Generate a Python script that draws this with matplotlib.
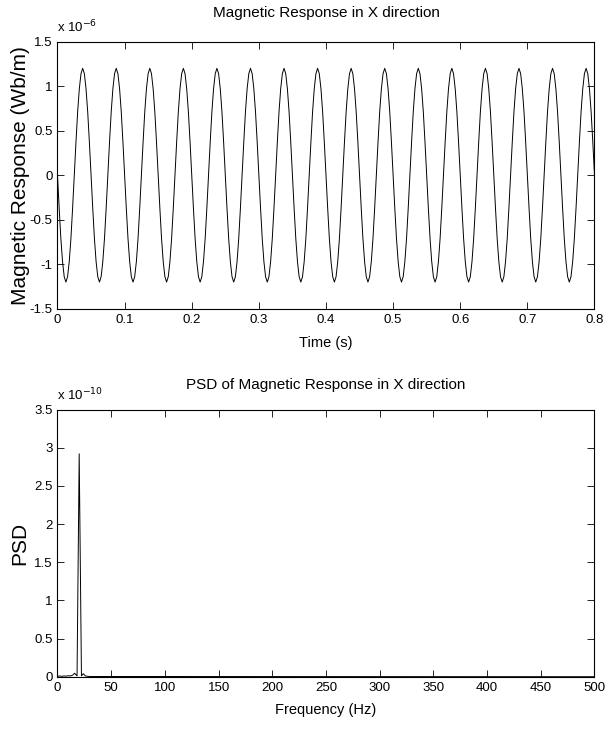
import numpy as np
import matplotlib.pyplot as plt

plt.rcParams['axes.unicode_minus'] = False

# one period of the time signal (units of 1e-6 Wb/m)
cycle_vals = [0.0, -0.37, -0.71, -0.97, -1.14, -1.2, -1.14, -0.97, -0.71, -0.37,
              0.0, 0.37, 0.71, 0.97, 1.14, 1.2, 1.14, 0.97, 0.71, 0.37]
n_cycles = 16
period = 0.05  # s

# PSD (units of 1e-10)
psd_freq = [0, 2, 4, 6, 8, 10, 12, 14, 16, 18.2, 20.2, 22.3, 24, 26, 28, 30, 500]
psd_vals = [0.005, 0.01, 0.005, 0.01, 0.008, 0.012, 0.01, 0.02, 0.045, 0.01,
            2.92, 0.01, 0.04, 0.01, 0.005, 0.003, 0.0]

narrow = ['Liberation Sans Narrow', 'Liberation Sans', 'DejaVu Sans']
wide = ['Liberation Sans', 'DejaVu Sans']

resp = np.array(cycle_vals * n_cycles + [cycle_vals[0]]) * 1e-6
t = np.arange(len(resp)) * period / len(cycle_vals)
psd = np.array(psd_vals) * 1e-10

fig = plt.figure(figsize=(6.13, 7.3), dpi=100)
ax1 = fig.add_axes([0.0938, 0.577, 0.876, 0.366])
ax2 = fig.add_axes([0.0938, 0.073, 0.876, 0.366])


def style(ax, xticks, yticks, title, xlabel, ylabel, expo, tpad):
    ax.set_xticks(xticks)
    ax.set_yticks(yticks)
    ax.set_xticklabels(['%g' % v for v in xticks], family=narrow, fontsize=9.5)
    ax.set_yticklabels(['%g' % v for v in yticks], family=narrow, fontsize=9.5)
    ax.tick_params(direction='in', top=True, right=True, length=5, width=0.6, pad=3.5)
    for s in ax.spines.values():
        s.set_linewidth(0.8)
    ax.set_title(title, family=narrow, fontsize=11, pad=tpad)
    ax.set_xlabel(xlabel, family=narrow, fontsize=10.5)
    ax.set_ylabel(ylabel, family=wide, fontsize=15)
    ax.xaxis.set_label_coords(0.5, -0.1)
    ax.yaxis.set_label_coords(-0.052, 0.5)
    ax.text(0, 1.035, 'x 10$^{%d}$' % expo, transform=ax.transAxes,
            ha='left', va='baseline', family=narrow, fontsize=9.5)


ax1.plot(t, resp / 1e-6, color='black', linewidth=0.7)
ax1.set_xlim(0, 0.8)
ax1.set_ylim(-1.5, 1.5)
style(ax1, [0, 0.1, 0.2, 0.3, 0.4, 0.5, 0.6, 0.7, 0.8],
      [-1.5, -1, -0.5, 0, 0.5, 1, 1.5],
      'Magnetic Response in X direction', 'Time (s)',
      'Magnetic Response (Wb/m)', -6, 18)

ax2.plot(psd_freq, psd / 1e-10, color='black', linewidth=0.7)
ax2.set_xlim(0, 500)
ax2.set_ylim(0, 3.5)
style(ax2, list(range(0, 501, 50)), [0, 0.5, 1, 1.5, 2, 2.5, 3, 3.5],
      'PSD of Magnetic Response in X direction', 'Frequency (Hz)', 'PSD', -10, 15)

fig.savefig('out.png', dpi=100)
